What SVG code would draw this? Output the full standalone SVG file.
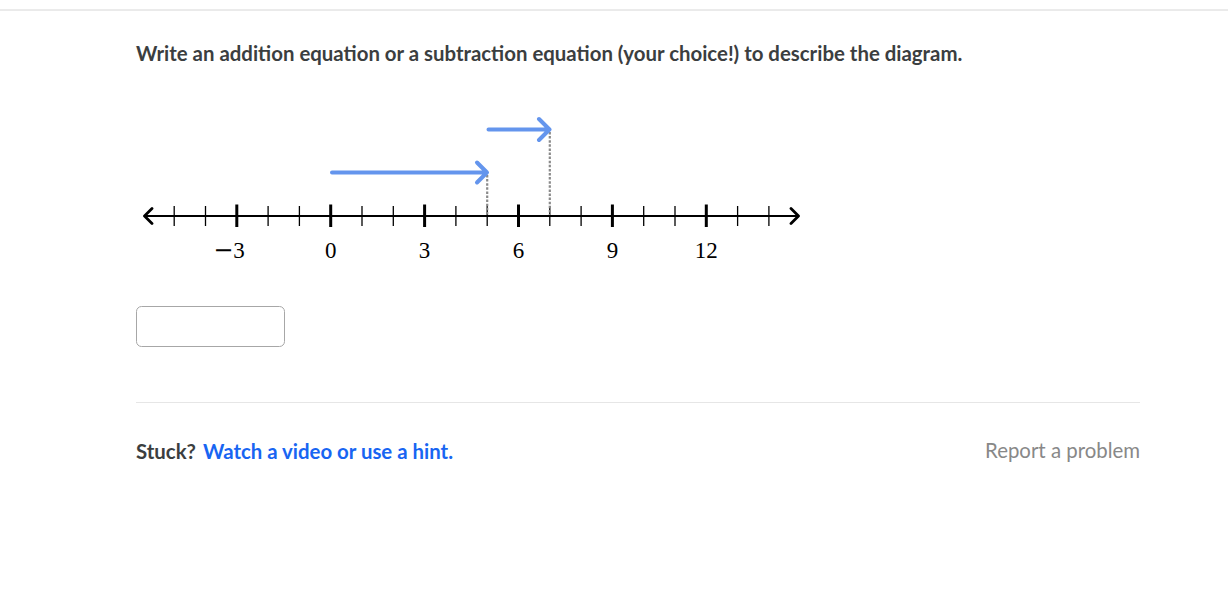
<svg xmlns="http://www.w3.org/2000/svg" width="1228" height="591" viewBox="0 0 1228 591">
<style>
.ui{font-family:Lato,"Liberation Sans",sans-serif;font-size:20.4px}
.b{font-weight:bold}
.minor{stroke:#000;stroke-width:1.3}
.major{stroke:#000;stroke-width:3}
.lab{font-family:"Liberation Serif",serif;font-size:23px;fill:#000;text-anchor:middle}
.jump{stroke:#6495ed;stroke-width:4;fill:none;stroke-linecap:round;stroke-linejoin:round}
.dot{stroke:#8a8a8a;stroke-width:2.2;stroke-dasharray:2.5 1.6}
</style>
<rect width="1228" height="591" fill="#fff"/>
<line x1="0" y1="10" x2="1228" y2="10" stroke="#d6d6d6" stroke-width="1"/>
<text class="ui b" x="136" y="61" fill="#3b3e40">Write an addition equation or a subtraction equation (your choice!) to describe the diagram.</text>
<g id="numberline">
<line x1="144" y1="216" x2="799" y2="216" stroke="#000" stroke-width="2.2"/>
<path d="M152,208.5 L144.5,216 L152,223.5 M791,208.5 L798.5,216 L791,223.5" stroke="#000" stroke-width="2.8" fill="none" stroke-linecap="round" stroke-linejoin="round"/>
<g class="minor">
<line x1="174.2" y1="206" x2="174.2" y2="226"/>
<line x1="205.5" y1="206" x2="205.5" y2="226"/>
<line x1="268.1" y1="206" x2="268.1" y2="226"/>
<line x1="299.4" y1="206" x2="299.4" y2="226"/>
<line x1="362.0" y1="206" x2="362.0" y2="226"/>
<line x1="393.3" y1="206" x2="393.3" y2="226"/>
<line x1="455.9" y1="206" x2="455.9" y2="226"/>
<line x1="487.2" y1="206" x2="487.2" y2="226"/>
<line x1="549.8" y1="206" x2="549.8" y2="226"/>
<line x1="581.1" y1="206" x2="581.1" y2="226"/>
<line x1="643.7" y1="206" x2="643.7" y2="226"/>
<line x1="675.0" y1="206" x2="675.0" y2="226"/>
<line x1="737.6" y1="206" x2="737.6" y2="226"/>
<line x1="768.9" y1="206" x2="768.9" y2="226"/>
</g>
<g class="major">
<line x1="236.8" y1="204.5" x2="236.8" y2="227"/>
<line x1="330.7" y1="204.5" x2="330.7" y2="227"/>
<line x1="424.6" y1="204.5" x2="424.6" y2="227"/>
<line x1="518.5" y1="204.5" x2="518.5" y2="227"/>
<line x1="612.4" y1="204.5" x2="612.4" y2="227"/>
<line x1="706.3" y1="204.5" x2="706.3" y2="227"/>
</g>
<text class="lab" x="229" y="258"><tspan font-family="'DejaVu Serif',serif" font-size="24">−</tspan>3</text>
<text class="lab" x="330.7" y="258">0</text>
<text class="lab" x="424.6" y="258">3</text>
<text class="lab" x="518.5" y="258">6</text>
<text class="lab" x="612.4" y="258">9</text>
<text class="lab" x="706.3" y="258">12</text>
</g>
<g id="connectors">
<line class="dot" x1="487.2" y1="175" x2="487.2" y2="215"/>
<line class="dot" x1="549.8" y1="132" x2="549.8" y2="215"/>
<path class="jump" d="M332,172.5 H486 M477,162.5 L487,172.5 L477,182.5"/>
<path class="jump" d="M488.5,129.5 H549 M539,119 L549.5,129.5 L539,140"/>
</g>
<g id="answer">
<rect x="136.5" y="306.5" width="148" height="40" rx="5" fill="#fff" stroke="#a7a7a7" stroke-width="1"/>
</g>
<line x1="136" y1="402.5" x2="1140" y2="402.5" stroke="#e6e6e6" stroke-width="1"/>
<g id="footer">
<text class="ui b" x="136" y="459" fill="#3b3e40">Stuck?</text>
<text class="ui b" x="203" y="459" fill="#1865f2">Watch a video or use a hint.</text>
<text class="ui" x="1140" y="458" fill="#888" text-anchor="end">Report a problem</text>
</g>
</svg>
